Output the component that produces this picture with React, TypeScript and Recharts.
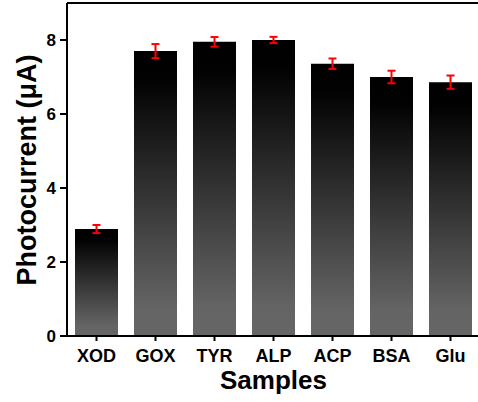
import React from "react";
import {
  BarChart,
  Bar,
  XAxis,
  YAxis,
  ErrorBar,
  ReferenceLine,
} from "recharts";

const samples = ["XOD", "GOX", "TYR", "ALP", "ACP", "BSA", "Glu"];
const photocurrent = [2.89, 7.7, 7.95, 8.0, 7.36, 7.0, 6.86];
const errors = [0.11, 0.19, 0.13, 0.085, 0.14, 0.17, 0.18];
const yTicks = [0, 2, 4, 6, 8];

const data = samples.map((name, i) => ({
  name,
  value: photocurrent[i],
  err: errors[i],
}));

const FONT = "'Liberation Sans', Arial, sans-serif";

const App: React.FC = () => {
  return (
    <div
      style={{
        position: "absolute",
        left: 0,
        top: 0,
        width: 478,
        height: 402,
        overflow: "hidden",
        background: "#fff",
      }}
    >
      <BarChart
        width={480}
        height={402}
        data={data}
        margin={{ top: 3, right: 0, bottom: 0, left: 0 }}
      >
        <defs>
          <linearGradient id="barGrad" x1="0" y1="0" x2="0" y2="1">
            <stop offset="0%" stopColor="#000000" />
            <stop offset="10%" stopColor="#020202" />
            <stop offset="90%" stopColor="#646464" />
            <stop offset="100%" stopColor="#666666" />
          </linearGradient>
        </defs>
        <XAxis
          dataKey="name"
          height={66}
          axisLine={{ stroke: "#000", strokeWidth: 2 }}
          tickLine={{ stroke: "#000", strokeWidth: 2 }}
          tickSize={5}
          tickMargin={8}
          tick={{ fill: "#000", fontSize: 18, fontWeight: "bold", fontFamily: FONT }}
          interval={0}
          label={() => (
            <text
              x={67 + 413 / 2}
              y={389}
              textAnchor="middle"
              fill="#000"
              fontSize={26}
              fontWeight="bold"
              fontFamily={FONT}
            >
              Samples
            </text>
          )}
        />
        <YAxis
          width={67}
          domain={[0, 9]}
          ticks={yTicks}
          axisLine={{ stroke: "#000", strokeWidth: 2 }}
          tickLine={{ stroke: "#000", strokeWidth: 2 }}
          tickSize={7}
          tickMargin={4}
          tick={{ fill: "#000", fontSize: 17, fontWeight: "bold", fontFamily: FONT }}
          label={() => (
            <text
              x={36}
              y={170}
              transform="rotate(-90 36 170)"
              textAnchor="middle"
              fill="#000"
              fontSize={27}
              fontWeight="bold"
              fontFamily={FONT}
            >
              Photocurrent (μA)
            </text>
          )}
        />
        <ReferenceLine y={9} stroke="#000" strokeWidth={2} />
        <Bar dataKey="value" fill="url(#barGrad)" barSize={43} isAnimationActive={false}>
          <ErrorBar
            dataKey="err"
            direction="y"
            width={4}
            stroke="#ff0000"
            strokeWidth={2}
            isAnimationActive={false}
          />
        </Bar>
      </BarChart>
    </div>
  );
};

export default App;
